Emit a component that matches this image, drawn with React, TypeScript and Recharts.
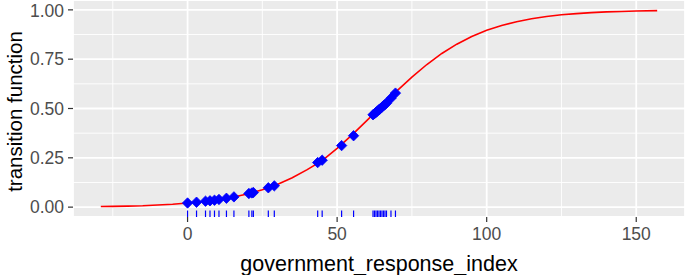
import { CartesianGrid, ComposedChart, Line, ReferenceLine, Scatter, XAxis, YAxis } from "recharts";

// fitted transition curve
const curveX = [-29, -25, -20, -15, -10, -5, 0, 5, 10, 15, 20, 25, 30, 35, 40, 45, 50, 55, 60, 65, 70, 75, 80, 85, 90, 95, 100, 105, 110, 115, 120, 125, 130, 135, 140, 145, 150, 157];
const curveY = [0.003, 0.004, 0.005, 0.007, 0.011, 0.015, 0.021, 0.028, 0.038, 0.05, 0.067, 0.088, 0.115, 0.149, 0.19, 0.236, 0.298, 0.366, 0.44, 0.515, 0.589, 0.659, 0.723, 0.779, 0.826, 0.865, 0.897, 0.921, 0.94, 0.955, 0.966, 0.975, 0.981, 0.986, 0.99, 0.992, 0.994, 0.996];

// observed government_response_index values and their fitted transition
const obsX = [0, 3, 6, 7.5, 9, 10.5, 13, 15.5, 20.5, 21.5, 22, 27, 29, 43.5, 45, 51.5, 55.5, 62, 62.5, 63, 63.5, 64, 64.5, 65, 65.5, 66, 66.5, 68, 69.5];
const obsY = [0.021, 0.025, 0.03, 0.032, 0.035, 0.039, 0.045, 0.052, 0.069, 0.072, 0.074, 0.098, 0.108, 0.226, 0.238, 0.312, 0.362, 0.468, 0.474, 0.481, 0.487, 0.494, 0.5, 0.507, 0.514, 0.52, 0.527, 0.552, 0.578];

const xTicks = [0, 50, 100, 150];
const xMinor = [-25, 25, 75, 125];
const yTicks = [0, 0.25, 0.5, 0.75, 1];
const yMinor = [0.125, 0.375, 0.625, 0.875];

const curve = curveX.map((x, i) => ({ x, y: curveY[i] }));
const points = obsX.map((x, i) => ({ x, y: obsY[i] }));
const rug = obsX.map((x) => ({ x, y: -0.05 }));

const font = "'Liberation Sans', Arial, sans-serif";

const Diamond = (props: any) => {
  const { cx, cy } = props;
  const r = 5.2;
  return (
    <polygon
      points={`${cx},${cy - r} ${cx + r},${cy} ${cx},${cy + r} ${cx - r},${cy}`}
      fill="#0000FF"
      stroke="#0000FF"
      strokeWidth={0.8}
      strokeLinejoin="round"
    />
  );
};

const RugTick = (props: any) => {
  const { cx, cy } = props;
  return <line x1={cx} x2={cx} y1={cy - 6.5} y2={cy} stroke="#0000FF" strokeWidth={1.2} />;
};

export default function App() {
  return (
    <div style={{ position: "absolute", left: 0, top: 0, width: 685, height: 275, background: "#fff" }}>
      <ComposedChart width={685} height={275} margin={{ top: 0, right: 0, bottom: 0, left: 0 }}>
        <CartesianGrid fill="#EBEBEB" stroke="#FFFFFF" strokeWidth={1.8} />
        {xMinor.map((v) => (
          <ReferenceLine key={`xm${v}`} x={v} stroke="#FFFFFF" strokeWidth={0.9} />
        ))}
        {yMinor.map((v) => (
          <ReferenceLine key={`ym${v}`} y={v} stroke="#FFFFFF" strokeWidth={0.9} />
        ))}
        <XAxis
          type="number"
          dataKey="x"
          domain={[-38.3, 166.3]}
          ticks={xTicks}
          allowDataOverflow
          height={58}
          axisLine={false}
          tickSize={5}
          tickMargin={6}
          tickLine={{ stroke: "#333333", strokeWidth: 1.2 }}
          tick={{ fill: "#4D4D4D", fontSize: 17.5, fontFamily: font }}
          label={{
            value: "government_response_index",
            position: "insideBottom",
            offset: 4,
            fill: "#000000",
            fontSize: 21.5,
            fontFamily: font,
          }}
        />
        <YAxis
          type="number"
          dataKey="y"
          domain={[-0.05, 1.05]}
          ticks={yTicks}
          allowDataOverflow
          width={73}
          axisLine={false}
          tickSize={5}
          tickMargin={4}
          tickLine={{ stroke: "#333333", strokeWidth: 1.2 }}
          tick={{ fill: "#4D4D4D", fontSize: 17.5, fontFamily: font }}
          tickFormatter={(v: number) => v.toFixed(2)}
          label={{
            content: (p: any) => {
              const vb = p.viewBox;
              const cx = 14;
              const cy = vb.y + vb.height / 2 + 3;
              return (
                <text
                  x={cx}
                  y={cy}
                  transform={`rotate(-90 ${cx} ${cy})`}
                  textAnchor="middle"
                  dominantBaseline="central"
                  fill="#000000"
                  fontSize={20.5}
                  fontFamily={font}
                >
                  transition function
                </text>
              );
            },
          }}
        />
        <Scatter data={rug} dataKey="y" shape={RugTick} isAnimationActive={false} />
        <Line data={curve} dataKey="y" type="linear" stroke="#FF0000" strokeWidth={1.6} dot={false} activeDot={false} isAnimationActive={false} />
        <Scatter data={points} dataKey="y" shape={Diamond} isAnimationActive={false} />
      </ComposedChart>
    </div>
  );
}
